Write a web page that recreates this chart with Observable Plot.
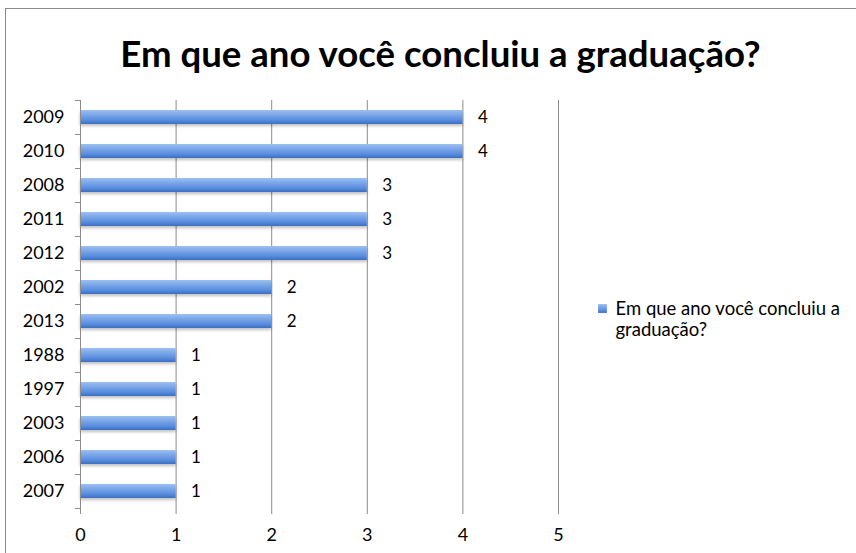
<!DOCTYPE html>
<html><head><meta charset="utf-8">
<script src="https://cdn.jsdelivr.net/npm/d3@7"></script>
<script src="https://cdn.jsdelivr.net/npm/@observablehq/plot@0.6"></script>
<style>
body{margin:0;background:#fff;}
#wrap{position:relative;width:856px;height:553px;overflow:hidden;}
#frame{position:absolute;left:5px;top:8px;width:1000px;height:1000px;border-left:1px solid #8a8a8a;border-top:1px solid #8a8a8a;pointer-events:none;}
</style></head><body>
<div id="wrap"><div id="chart"></div><div id="frame"></div></div>
<script>
const years = ["2009","2010","2008","2011","2012","2002","2013","1988","1997","2003","2006","2007"];
const counts = [4,4,3,3,3,2,2,1,1,1,1,1];
const xTicks = [0,1,2,3,4,5];
const title = "Em que ano você concluiu a graduação?";
const seriesName = "Em que ano você concluiu a\ngraduação?";

const data = years.map((y, i) => ({year: y, count: counts[i]}));
const FONT = "Lato, 'Open Sans', sans-serif";
const GRID = "#8c8c8c";

function defs() {
  const ns = "http://www.w3.org/2000/svg";
  const d = document.createElementNS(ns, "defs");
  const g = document.createElementNS(ns, "linearGradient");
  g.setAttribute("id", "barGrad");
  g.setAttribute("x1", "0"); g.setAttribute("y1", "0");
  g.setAttribute("x2", "0"); g.setAttribute("y2", "1");
  [["0%", "#9dc0f0"], ["30%", "#7fa9ea"], ["70%", "#5b8ede"], ["100%", "#3a6fc4"]].forEach(([o, c]) => {
    const s = document.createElementNS(ns, "stop");
    s.setAttribute("offset", o); s.setAttribute("stop-color", c);
    g.appendChild(s);
  });
  d.appendChild(g);
  return d;
}

const chart = Plot.plot({
  width: 856,
  height: 553,
  marginLeft: 80,
  marginRight: 298,
  marginTop: 100,
  marginBottom: 45,
  style: {fontFamily: FONT, fontSize: "17px", color: "#000", background: "none"},
  x: {type: "linear", domain: [0, 5], ticks: xTicks, label: null},
  y: {type: "band", domain: years, paddingInner: 0.6, paddingOuter: 0.3, label: null},
  marks: [
    defs,
    Plot.gridX(xTicks.slice(1), {stroke: GRID, strokeOpacity: 1}),
    Plot.barX(data, {x: "count", y: "year", fill: "url(#barGrad)"}),
    Plot.ruleX([0], {stroke: GRID, strokeOpacity: 1}),
    Plot.axisY({tickSize: 5, text: null, dy: -17, stroke: GRID, strokeOpacity: 1, label: null}),
    Plot.axisY({ticks: years.slice(-1), tickSize: 5, text: null, dy: 17, stroke: GRID, strokeOpacity: 1, label: null}),
    Plot.axisX({ticks: xTicks, tickSize: 6, tickPadding: 14, stroke: GRID, strokeOpacity: 1, fontSize: 18, tickFormat: d3.format("d"), label: null}),
    Plot.ruleY([0], {frameAnchor: "bottom", stroke: GRID}),
    Plot.axisY({tickSize: 0, tickPadding: 16, fontSize: 18, label: null}),
    Plot.text(data, {x: "count", y: "year", text: d => String(d.count), textAnchor: "start", dx: 15, fontSize: 17}),
    Plot.text([title], {frameAnchor: "top", dx: 121, dy: -45, fontSize: 36.6, fontWeight: "bold", lineAnchor: "middle"}),
    Plot.dot([seriesName], {frameAnchor: "top-right", dx: 44, dy: 208, symbol: "square", r: 5, fill: "url(#barGrad)", stroke: "none"}),
    Plot.text([seriesName], {frameAnchor: "top-right", dx: 57, dy: 218, textAnchor: "start", lineAnchor: "middle", lineHeight: 1.12, fontSize: 18.5})
  ]
});
const barGroup = chart.querySelector('g[aria-label="bar"]');
if (barGroup) barGroup.style.filter = "drop-shadow(0px 2px 1.5px rgba(0,0,0,0.25))";
document.getElementById("chart").appendChild(chart);
</script>
</body></html>
